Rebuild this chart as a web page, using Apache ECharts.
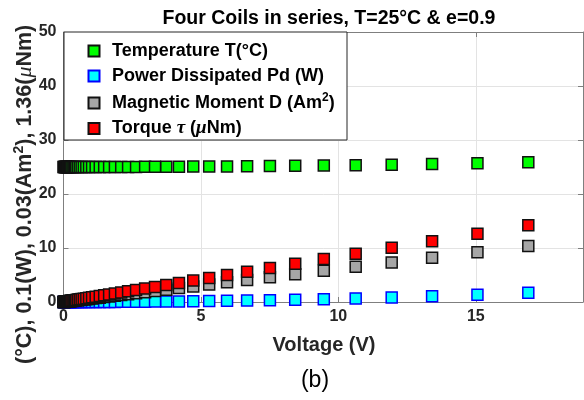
<!DOCTYPE html>
<html>
<head>
<meta charset="utf-8">
<script src="https://cdn.jsdelivr.net/npm/echarts@6/dist/echarts.min.js"></script>
<style>html,body{margin:0;padding:0;background:#fff}#c{width:584px;height:400px}</style>
</head>
<body>
<div id="c"></div>
<script>
const voltage = [0, 0.02, 0.04, 0.058, 0.07, 0.08, 0.09, 0.10, 0.12, 0.13, 0.15, 0.16, 0.18, 0.21, 0.23, 0.26, 0.29, 0.33, 0.37, 0.41, 0.46, 0.52, 0.59, 0.66, 0.74, 0.83, 0.93, 1.04, 1.17, 1.32, 1.48, 1.66, 1.87, 2.10, 2.35, 2.64, 2.97, 3.33, 3.74, 4.20, 4.72, 5.30, 5.95, 6.68, 7.51, 8.43, 9.47, 10.63, 11.94, 13.41, 15.06, 16.91];
const temperature = [25, 25, 25, 25, 25, 25, 25, 25, 25, 25, 25, 25, 25, 25, 25, 25, 25, 25, 25, 25, 25, 25, 25, 25, 25, 25, 25, 25, 25, 25.01, 25.01, 25.01, 25.01, 25.01, 25.02, 25.02, 25.03, 25.03, 25.04, 25.05, 25.07, 25.08, 25.11, 25.13, 25.17, 25.21, 25.27, 25.34, 25.43, 25.54, 25.68, 25.86];
const power = [0, 0, 0, 0, 0, 0, 0, 0, 0, 0, 0, 0, 0, 0, 0, 0, 0, 0, 0, 0, 0, 0, 0, 0, 0, 0, 0.01, 0.01, 0.01, 0.01, 0.01, 0.02, 0.02, 0.03, 0.03, 0.04, 0.05, 0.07, 0.08, 0.10, 0.13, 0.17, 0.21, 0.26, 0.33, 0.42, 0.53, 0.67, 0.84, 1.06, 1.34, 1.69];
const moment = [0, 0.01, 0.02, 0.04, 0.04, 0.05, 0.06, 0.06, 0.07, 0.08, 0.09, 0.10, 0.11, 0.13, 0.14, 0.16, 0.18, 0.20, 0.23, 0.25, 0.28, 0.32, 0.36, 0.40, 0.45, 0.51, 0.57, 0.64, 0.72, 0.81, 0.91, 1.02, 1.14, 1.29, 1.44, 1.62, 1.82, 2.04, 2.29, 2.57, 2.89, 3.24, 3.64, 4.09, 4.60, 5.16, 5.80, 6.51, 7.31, 8.21, 9.22, 10.35];
const torque = [0, 0.02, 0.03, 0.05, 0.06, 0.07, 0.08, 0.08, 0.10, 0.11, 0.13, 0.13, 0.15, 0.18, 0.19, 0.22, 0.24, 0.28, 0.31, 0.34, 0.39, 0.44, 0.50, 0.55, 0.62, 0.70, 0.78, 0.87, 0.98, 1.11, 1.24, 1.39, 1.57, 1.76, 1.97, 2.22, 2.49, 2.80, 3.14, 3.53, 3.96, 4.45, 5.00, 5.61, 6.31, 7.08, 7.95, 8.93, 10.03, 11.26, 12.65, 14.20];
const seriesNames = ['Temperature T(°C)', 'Power Dissipated Pd (W)', 'Magnetic Moment D (Am²)', 'Torque τ (μNm)'];
const xTicks = [0, 5, 10, 15];
const yTicks = [0, 10, 20, 30, 40, 50];

const FONT = '"Liberation Sans", Arial, Helvetica, sans-serif';
function pairs(ys) { return voltage.map((v, i) => [v, ys[i]]); }
const styles = [
  { color: '#00ff00', borderColor: '#111111' },
  { color: '#00ffff', borderColor: '#0000ff' },
  { color: '#a6a6a6', borderColor: '#111111' },
  { color: '#ff0000', borderColor: '#111111' }
];
const values = [temperature, power, moment, torque];

const chart = echarts.init(document.getElementById('c'), null, { renderer: 'canvas' });
const axisCol = '#7f7f7f';
const gridCol = '#e3e3e3';
chart.setOption({
  animation: false,
  backgroundColor: '#fff',
  title: {
    text: 'Four Coils in series, T=25°C & e=0.9',
    left: 324, textAlign: 'center', top: 4,
    textStyle: { fontFamily: FONT, fontSize: 19.5, fontWeight: 'bold', color: '#000' }
  },
  grid: { left: 63.5, right: 1, top: 32, bottom: 98, containLabel: false },
  xAxis: [{
    type: 'value', min: 0, max: 18.9, interval: 5,
    axisLine: { show: true, lineStyle: { color: axisCol, width: 1 } },
    axisTick: { show: true, inside: true, length: 5, lineStyle: { color: axisCol } },
    splitLine: { show: true, lineStyle: { color: gridCol, width: 1 } },
    axisLabel: { showMaxLabel: false, margin: 7, fontFamily: FONT, fontSize: 16, fontWeight: 'bold', color: '#262626',
      formatter: v => (xTicks.indexOf(v) >= 0 ? String(v) : '') }
  }, {
    type: 'value', position: 'top', min: 0, max: 18.9, interval: 5,
    axisLine: { show: true, onZero: false, lineStyle: { color: axisCol, width: 1 } },
    axisTick: { show: true, inside: true, length: 5, lineStyle: { color: axisCol } },
    splitLine: { show: false }, axisLabel: { show: false }
  }],
  yAxis: [{
    type: 'value', min: 0, max: 50, interval: 10,
    axisLine: { show: true, lineStyle: { color: axisCol, width: 1 } },
    axisTick: { show: true, inside: true, length: 5, lineStyle: { color: axisCol } },
    splitLine: { show: true, lineStyle: { color: gridCol, width: 1 } },
    axisLabel: { margin: 7, fontFamily: FONT, fontSize: 16, fontWeight: 'bold', color: '#262626',
      formatter: v => (yTicks.indexOf(v) >= 0 ? String(v) : '') }
  }, {
    type: 'value', position: 'right', min: 0, max: 50, interval: 10,
    axisLine: { show: true, onZero: false, lineStyle: { color: axisCol, width: 1 } },
    axisTick: { show: true, inside: true, length: 5, lineStyle: { color: axisCol } },
    splitLine: { show: false }, axisLabel: { show: false }
  }],
  legend: {
    orient: 'vertical', left: 64, top: 32,
    padding: [10, 10, 4, 23.5],
    itemGap: 7,
    itemWidth: 26, itemHeight: 11,
    icon: 'path://M0,0H10V10H0Z',
    data: seriesNames,
    textStyle: {
      fontFamily: FONT, fontSize: 18, fontWeight: 'bold', color: '#000',
      rich: {
        n: { fontFamily: FONT, fontSize: 18, fontWeight: 'bold', color: '#000' },
        s: { fontFamily: FONT, fontSize: 12, fontWeight: 'bold', color: '#000', padding: [0, 0, 10, 0] },
        i: { fontFamily: '"Liberation Serif", serif', fontSize: 19, fontStyle: 'italic', color: '#000' }
      }
    },
    formatter: function (name) {
      if (name.indexOf('Torque') === 0) return '{n|Torque }{i|τ}{n| (}{i|μ}{n|Nm)}';
      if (name.indexOf('Magnetic') === 0) return '{n|Magnetic Moment D (Am}{s|2}{n|)}';
      return '{n|' + name + '}';
    }
  },
  graphic: [
    { type: 'rect', z: 3, shape: { x: 64, y: 32, width: 283, height: 108 },
      style: { fill: '#fff', stroke: '#262626', lineWidth: 1 } },
    { type: 'text', x: 25, y: 364, rotation: Math.PI / 2,
      style: {
        text: '{n|(°C), 0.1(W), 0.03(Am}{s|2}{n|), 1.36(}{i|μ}{n|Nm)}',
        align: 'left', verticalAlign: 'middle',
        rich: {
          n: { fontFamily: FONT, fontSize: 21.5, fontWeight: 'bold', fill: '#262626' },
          s: { fontFamily: FONT, fontSize: 14, fontWeight: 'bold', fill: '#262626', padding: [0, 0, 11, 0] },
          i: { fontFamily: '"Liberation Serif", serif', fontSize: 22, fontStyle: 'italic', fill: '#262626' }
        }
      } },
    { type: 'text', x: 324, y: 345,
      style: { text: 'Voltage (V)', align: 'center', verticalAlign: 'middle',
        font: 'bold 20px ' + FONT, fill: '#262626' } },
    { type: 'text', x: 315, y: 381,
      style: { text: '(b)', align: 'center', verticalAlign: 'middle',
        font: '23px ' + FONT, fill: '#000' } }
  ],
  series: seriesNames.map((name, k) => ({
    name: name, type: 'scatter', symbol: 'rect', symbolSize: 11,
    data: pairs(values[k]),
    clip: false,
    itemStyle: { color: styles[k].color, borderColor: styles[k].borderColor, borderWidth: 1.5, opacity: 1 },
    emphasis: { disabled: true }
  }))
});
</script>
</body>
</html>
